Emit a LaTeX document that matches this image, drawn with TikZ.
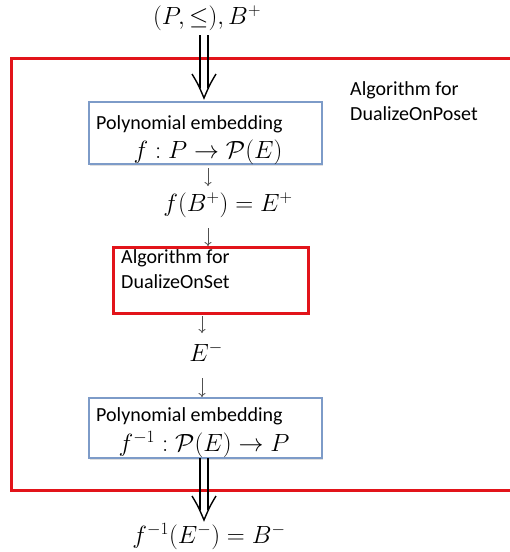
\documentclass[tikz,border=0pt]{standalone}
\usepackage{fontspec}
\setmainfont{Carlito}
\usetikzlibrary{arrows.meta,shadows}
\definecolor{boxred}{RGB}{226,20,26}
\definecolor{boxblue}{RGB}{125,155,200}
\definecolor{arrgray}{RGB}{80,80,80}
\tikzset{
  txt/.style={font=\fontsize{20}{24}\selectfont, inner sep=0pt},
  mth/.style={font=\fontsize{23.5}{27}\selectfont, inner sep=0pt},
  bluebox/.style={draw=boxblue, line width=1.2pt, fill=white, minimum width=233pt, minimum height=62pt, inner sep=0pt,
    drop shadow={shadow xshift=1.2pt, shadow yshift=-1.5pt, opacity=0.25}},
  redbox/.style={draw=boxred, line width=3pt, inner sep=0pt},
  smallarr/.style={draw=arrgray, line width=0.8pt, -{To[length=4pt,width=7pt]}},
  dblline/.style={line width=1.4pt, line cap=butt},
}
\begin{document}
\begin{tikzpicture}[x=1pt,y=-1pt]
\useasboundingbox (0,0) rectangle (510,552);
% outer red frame
\draw[redbox] (11,58) rectangle (520,490);
\node[txt, anchor=north west, align=left] (outerlbl) at (350,81) {Algorithm for\\[1pt]DualizeOnPoset};

% top input
\node[inner sep=0pt, font=\fontsize{24.5}{28}\selectfont] (top) at (207,18) {$(P,\leq),B^+$};

% box 1
\node[bluebox, minimum height=62pt] (box1) at (205.5,133) {};
\node[txt, anchor=west] (b1a) at (96,124) {Polynomial embedding};
\node[mth] (b1b) at (208,152) {$f:P\rightarrow\mathcal{P}(E)$};

% f(B+)
\node[mth] (fb) at (228,205) {$f(B^+)=E^+$};

% red inner box
\node[redbox, minimum width=195pt, minimum height=66pt, fill=white, drop shadow={shadow xshift=1pt, shadow yshift=-1.5pt, opacity=0.25}] (box2) at (210.5,280) {};
\node[txt, anchor=north west, align=left] (b2t) at (121,249) {Algorithm for\\[1pt]DualizeOnSet};

% E-
\node[mth] (em) at (206,352) {$E^-$};

% box 3
\node[bluebox, minimum height=60pt] (box3) at (205.5,428) {};
\node[txt, anchor=west] (b3a) at (96,416) {Polynomial embedding};
\node[inner sep=0pt, font=\fontsize{23.5}{27}\selectfont] (b3b) at (204,445) {$f^{-1}:\mathcal{P}(E)\rightarrow P$};

% output
\node[inner sep=0pt, font=\fontsize{25.5}{29}\selectfont] (bot) at (209,537) {$f^{-1}(E^-)=B^-$};

% small arrows
\coordinate (a1s) at (208,168);
\coordinate (a1e) at (208,186);
\draw[smallarr] (a1s) -- (a1e);
\coordinate (a2s) at (208,228);
\coordinate (a2e) at (208,246);
\draw[smallarr] (a2s) -- (a2e);
\coordinate (a3s) at (202,316);
\coordinate (a3e) at (202,333);
\draw[smallarr] (a3s) -- (a3e);
\coordinate (a4s) at (202,378);
\coordinate (a4e) at (202,397);
\draw[smallarr] (a4s) -- (a4e);

% double arrow top
\coordinate (d1s) at (204,35);
\coordinate (d1t) at (204,98);
\draw[dblline] ([xshift=-4pt]d1s) -- ([xshift=-4pt,yshift=10pt]d1t);
\draw[dblline] ([xshift=4pt]d1s) -- ([xshift=4pt,yshift=10pt]d1t);
\draw[line width=1.4pt, line join=miter] ([xshift=-12pt,yshift=24pt]d1t) .. controls ([xshift=-6pt,yshift=14pt]d1t) .. (d1t) .. controls ([xshift=6pt,yshift=14pt]d1t) .. ([xshift=12pt,yshift=24pt]d1t);

% double arrow bottom
\coordinate (d2s) at (204,458);
\coordinate (d2t) at (204,520);
\draw[dblline] ([xshift=-4pt]d2s) -- ([xshift=-4pt,yshift=10pt]d2t);
\draw[dblline] ([xshift=4pt]d2s) -- ([xshift=4pt,yshift=10pt]d2t);
\draw[line width=1.4pt, line join=miter] ([xshift=-12pt,yshift=24pt]d2t) .. controls ([xshift=-6pt,yshift=14pt]d2t) .. (d2t) .. controls ([xshift=6pt,yshift=14pt]d2t) .. ([xshift=12pt,yshift=24pt]d2t);
\end{tikzpicture}
\end{document}
